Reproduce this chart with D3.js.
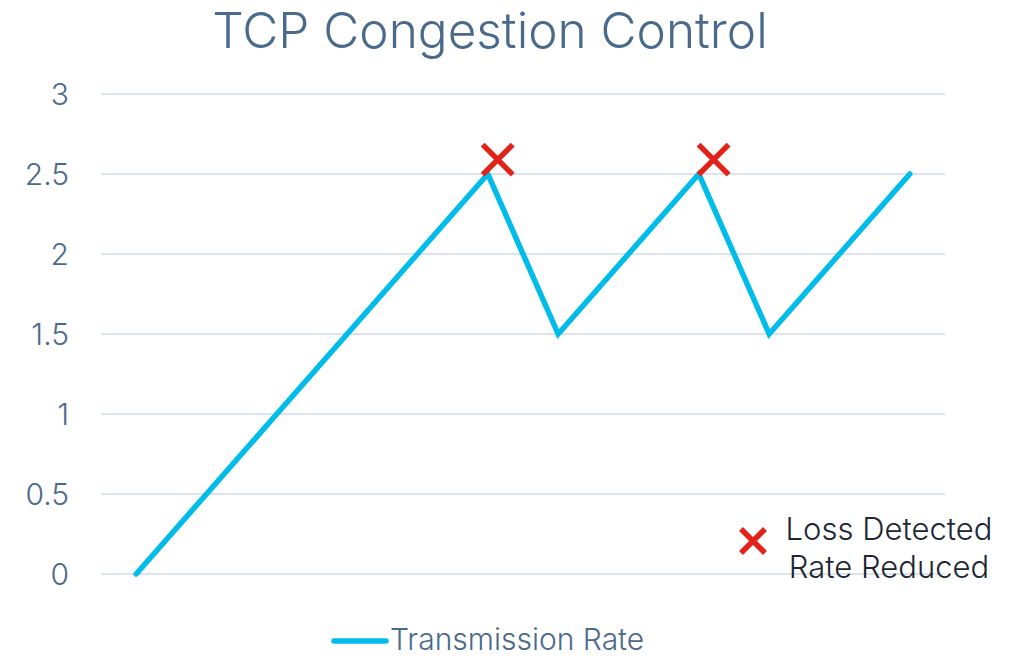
<!DOCTYPE html>
<html>
<head>
<meta charset="utf-8">
<script src="https://cdn.jsdelivr.net/npm/d3@7.9.0/dist/d3.min.js"></script>
<style>
  body { margin: 0; background: #fff; }
  text { font-family: Inter, Roboto, "Noto Sans", sans-serif; }
</style>
</head>
<body>
<svg id="chart" width="1025" height="657"></svg>
<script>
// data
const steps = [0, 1, 2, 3, 4, 5, 6, 7, 8, 9, 10, 11];
const rate = [0, 0.5, 1, 1.5, 2, 2.5, 1.5, 2, 2.5, 1.5, 2, 2.5];
const lossX = [5.14, 8.21];
const lossY = [2.59, 2.59];
const yTicks = [0, 0.5, 1, 1.5, 2, 2.5, 3];

const svg = d3.select('#chart');
const margin = { left: 101, right: 80, top: 94, bottom: 83 };
const W = 1025, H = 657;

// category axis: each step sits in the middle of its band
const x = d3.scaleLinear()
    .domain([-0.5, steps.length - 0.5])
    .range([margin.left, W - margin.right]);
const y = d3.scaleLinear().domain([0, 3]).range([H - margin.bottom, margin.top]);

// gridlines + labels
svg.append('g')
    .selectAll('line')
    .data(yTicks)
    .join('line')
    .attr('x1', margin.left)
    .attr('x2', W - margin.right)
    .attr('y1', d => y(d))
    .attr('y2', d => y(d))
    .attr('stroke', '#cfdae8')
    .attr('stroke-width', 1.5);

svg.append('g')
    .selectAll('text')
    .data(yTicks)
    .join('text')
    .attr('x', 69)
    .attr('y', d => y(d))
    .attr('dy', '0.36em')
    .attr('text-anchor', 'end')
    .attr('fill', '#4a6a8c')
    .attr('font-size', 30)
    .attr('font-weight', 300)
    .text(d => d);

// title
svg.append('text')
    .attr('x', 490)
    .attr('y', 48)
    .attr('text-anchor', 'middle')
    .attr('fill', '#4a6a8c')
    .attr('font-size', 49.5)
    .attr('font-weight', 300)
    .text('TCP Congestion Control');

// the rate line
const line = d3.line().x((d, i) => x(steps[i])).y(d => y(d));
svg.append('path')
    .datum(rate)
    .attr('d', line)
    .attr('fill', 'none')
    .attr('stroke', '#00bceb')
    .attr('stroke-width', 5.5)
    .attr('stroke-linejoin', 'miter')
    .attr('stroke-linecap', 'round');

// red crosses
function cross(g, cx, cy, r) {
    g.append('path')
        .attr('d', `M${cx - r},${cy - r}L${cx + r},${cy + r}M${cx + r},${cy - r}L${cx - r},${cy + r}`)
        .attr('stroke', '#e2231a')
        .attr('stroke-width', 5.5)
        .attr('fill', 'none');
}
const marks = svg.append('g');
lossX.forEach((d, i) => cross(marks, x(d), y(lossY[i]), 15));

// annotation legend
cross(svg.append('g'), 753, 541, 12);
svg.append('text')
    .attr('x', 889)
    .attr('y', 540)
    .attr('text-anchor', 'middle')
    .attr('fill', '#1d2633')
    .attr('font-size', 31)
    .attr('font-weight', 300)
    .selectAll('tspan')
    .data(['Loss Detected', 'Rate Reduced'])
    .join('tspan')
    .attr('x', 889)
    .attr('dy', (d, i) => i ? 38 : 0)
    .text(d => d);

// bottom legend
svg.append('line')
    .attr('x1', 334).attr('x2', 386)
    .attr('y1', 641).attr('y2', 641)
    .attr('stroke', '#00bceb')
    .attr('stroke-width', 5.5)
    .attr('stroke-linecap', 'round');
svg.append('text')
    .attr('x', 390)
    .attr('y', 650)
    .attr('fill', '#4a6a8c')
    .attr('font-size', 30)
    .attr('font-weight', 300)
    .text('Transmission Rate');
</script>
</body>
</html>
